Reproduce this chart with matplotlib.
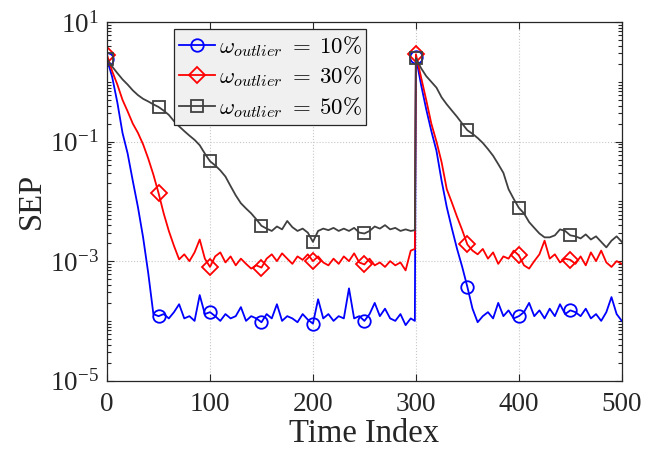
import matplotlib
matplotlib.use("Agg")
import matplotlib.pyplot as plt
from matplotlib.ticker import FixedLocator, FuncFormatter, NullFormatter
import numpy as np

plt.rcParams['font.family'] = ['Liberation Serif', 'DejaVu Serif']
plt.rcParams['mathtext.fontset'] = 'cm'

# time index (step 5, plus the sample just before the restart at 300)
time_idx = list(range(0, 300, 5)) + [299] + list(range(300, 501, 5))

sep_10 = [2.4, 1.2, 0.45, 0.14, 0.063, 0.022, 0.008, 0.0025, 6.3e-4, 1.3e-4,
          1.2e-4, 1.3e-4, 1.1e-4, 1.4e-4, 1.9e-4, 1.1e-4, 1.2e-4, 1.0e-4, 2.7e-4, 1.3e-4,
          1.4e-4, 1.2e-4, 1.0e-4, 1.3e-4, 1.1e-4, 1.2e-4, 1.7e-4, 1.0e-4, 1.2e-4, 1.1e-4,
          0.95e-4, 1.3e-4, 1.1e-4, 1.9e-4, 1.0e-4, 1.2e-4, 1.1e-4, 0.95e-4, 1.3e-4, 1.05e-4,
          0.9e-4, 2.3e-4, 1.1e-4, 1.3e-4, 1.0e-4, 1.2e-4, 1.1e-4, 3.5e-4, 1.1e-4, 1.2e-4,
          1.0e-4, 1.3e-4, 2.0e-4, 1.2e-4, 1.6e-4, 1.1e-4, 1.0e-4, 1.3e-4, 0.85e-4, 1.1e-4,
          1.0e-4,
          2.6, 0.9, 0.35, 0.15, 0.07, 0.022, 0.008, 0.0035, 0.0016, 8e-4,
          3.7e-4, 1.6e-4, 0.95e-4, 1.2e-4, 1.4e-4, 1.1e-4, 2.0e-4, 1.2e-4, 1.5e-4, 1.1e-4,
          1.2e-4, 1.4e-4, 2.0e-4, 1.2e-4, 1.5e-4, 1.1e-4, 1.6e-4, 1.2e-4, 1.9e-4, 1.3e-4,
          1.5e-4, 1.4e-4, 1.2e-4, 1.6e-4, 1.1e-4, 1.3e-4, 1.0e-4, 1.4e-4, 2.5e-4, 1.3e-4,
          1.0e-4]

sep_30 = [2.8, 1.5, 0.9, 0.5, 0.32, 0.2, 0.14, 0.09, 0.052, 0.028,
          0.0138, 0.0063, 0.0032, 0.0018, 1.07e-3, 1.3e-3, 1.0e-3, 1.4e-3, 2.3e-3, 1.1e-3,
          0.8e-3, 1.2e-3, 1.4e-3, 0.95e-3, 1.2e-3, 0.85e-3, 1.1e-3, 0.9e-3, 0.75e-3, 0.85e-3,
          0.78e-3, 1.1e-3, 1.3e-3, 1.0e-3, 1.35e-3, 1.1e-3, 0.9e-3, 1.2e-3, 1.05e-3, 1.3e-3,
          1.0e-3, 1.2e-3, 0.95e-3, 0.85e-3, 1.1e-3, 0.9e-3, 1.2e-3, 1.0e-3, 1.35e-3, 0.95e-3,
          0.88e-3, 1.1e-3, 0.85e-3, 0.95e-3, 0.8e-3, 1.0e-3, 0.85e-3, 0.95e-3, 0.7e-3, 1.5e-3,
          1.6e-3,
          2.9, 1.2, 0.5, 0.2, 0.1, 0.045, 0.016, 0.0095, 0.0055, 0.0033,
          0.0019, 1.5e-3, 1.3e-3, 1.6e-3, 1.1e-3, 1.4e-3, 0.9e-3, 1.2e-3, 1.1e-3, 1.5e-3,
          1.25e-3, 0.85e-3, 0.75e-3, 1.0e-3, 1.3e-3, 2.2e-3, 1.1e-3, 1.3e-3, 0.95e-3, 1.1e-3,
          1.05e-3, 0.9e-3, 1.2e-3, 0.85e-3, 1.4e-3, 1.0e-3, 1.5e-3, 0.95e-3, 0.8e-3, 1.0e-3,
          0.9e-3]

sep_50 = [2.4, 1.8, 1.4, 1.1, 0.9, 0.72, 0.6, 0.52, 0.47, 0.42,
          0.38, 0.33, 0.28, 0.22, 0.18, 0.15, 0.126, 0.107, 0.087, 0.063,
          0.047, 0.04, 0.033, 0.026, 0.018, 0.0126, 0.0093, 0.0076, 0.0063, 0.005,
          0.0039, 0.0035, 0.0032, 0.0038, 0.0034, 0.0047, 0.0037, 0.0032, 0.0035, 0.003,
          0.0021, 0.0032, 0.0035, 0.0033, 0.0036, 0.0032, 0.0035, 0.0032, 0.0036, 0.003,
          0.0029, 0.0032, 0.0038, 0.0035, 0.004, 0.0034, 0.0036, 0.0032, 0.0034, 0.0032,
          0.0033,
          2.5, 1.7, 1.25, 1.0, 0.8, 0.55, 0.42, 0.33, 0.26, 0.2,
          0.155, 0.135, 0.115, 0.095, 0.075, 0.058, 0.042, 0.03, 0.016, 0.011,
          0.0078, 0.0063, 0.0045, 0.0036, 0.0029, 0.0025, 0.0025, 0.0027, 0.0034, 0.0032,
          0.0027, 0.0026, 0.0024, 0.0028, 0.0023, 0.0026, 0.0021, 0.0017, 0.0022, 0.0026,
          0.0021]

labels = [r'$\omega_{outlier}\;=\;10\%$', r'$\omega_{outlier}\;=\;30\%$',
          r'$\omega_{outlier}\;=\;50\%$']
colors = ['#0000ff', '#ff0000', '#404040']
markers = ['o', 'D', 's']
msizes = [9, 8, 8]

# markers every 50 samples
mark_idx = [i for i, t in enumerate(time_idx) if t % 50 == 0 and t < 500]

fig = plt.figure(figsize=(6.65, 4.51), dpi=100)
ax = fig.add_axes([0.161, 0.156, 0.774, 0.795])

for y, c, m, ms, lab in zip([sep_10, sep_30, sep_50], colors, markers, msizes, labels):
    ax.plot(time_idx, y, color=c, lw=1.3, marker=m, ms=ms, mfc='none',
            mec=c, mew=1.3, markevery=mark_idx, label=lab)

ax.set_yscale('log')
ax.set_xlim(0, 500)
ax.set_ylim(1e-5, 1e1)
ax.set_xticks([0, 100, 200, 300, 400, 500])
ax.yaxis.set_major_locator(FixedLocator([1e-5, 1e-3, 1e-1, 1e1]))
ax.yaxis.set_major_formatter(FuncFormatter(
    lambda v, p: r'$\mathregular{10^{%d}}$' % int(round(np.log10(v)))))
minors = [k * 10.0 ** e for e in range(-5, 1) for k in range(1, 10)]
minors = [v for v in minors if v not in (1e-5, 1e-3, 1e-1)]
ax.yaxis.set_minor_locator(FixedLocator(minors))
ax.yaxis.set_minor_formatter(NullFormatter())

ax.tick_params(which='both', direction='in', top=True, right=True,
               colors='#262626', labelcolor='#262626', labelsize=19.5, width=0.8)
ax.tick_params(which='major', length=5)
ax.tick_params(axis='x', which='major', pad=8)
ax.tick_params(axis='y', which='major', pad=6)
ax.tick_params(which='minor', length=2.8)
for s in ax.spines.values():
    s.set_color('#262626')
    s.set_linewidth(0.9)

ax.grid(True, which='major', ls=':', color='#c8c8c8', lw=0.8)
ax.set_axisbelow(True)

ax.set_xlabel('Time Index', fontsize=23.5, color='#262626', labelpad=1)
ax.set_ylabel('SEP', fontsize=23.5, color='#262626', labelpad=2)

leg = ax.legend(loc='upper left', bbox_to_anchor=(0.13, 0.98), fontsize=16.5,
                frameon=True, fancybox=False, borderaxespad=0, borderpad=0.2,
                handlelength=1.6, handletextpad=0.15, labelspacing=0.25)
leg.get_frame().set_facecolor('#f0f0f0')
leg.get_frame().set_edgecolor('#262626')
leg.get_frame().set_linewidth(0.9)
leg.get_frame().set_alpha(1)

fig.savefig('out.png', dpi=100)
